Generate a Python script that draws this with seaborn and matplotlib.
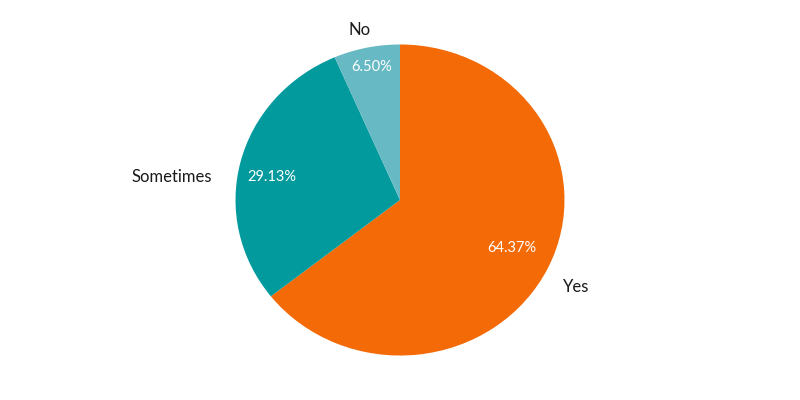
import matplotlib
matplotlib.use("Agg")
import matplotlib.pyplot as plt
import seaborn as sns

categories = ["Yes", "Sometimes", "No"]
values = [64.37, 29.13, 6.50]
colors = ["#F36A06", "#039A9E", "#67B9C4"]

# label placement (layout only), in pie-radius units
label_pos = [(0.991, -0.559, "left"), (-1.143, 0.148, "right"), (-0.243, 1.093, "center")]
pct_pos = [(0.681, -0.309), (-0.778, 0.148), (-0.170, 0.855)]

sns.set_theme(style="white")
plt.rcParams["font.family"] = ["Lato", "DejaVu Sans"]

fig = plt.figure(figsize=(8, 4), dpi=100)
ax = fig.add_axes([0, 0, 1, 1])
wedges, texts, autotexts = ax.pie(
    values, labels=categories, colors=colors, startangle=90, counterclock=False,
    radius=1.0, autopct=lambda p: f"{p:.2f}%", pctdistance=0.82, labeldistance=1.16,
    textprops=dict(fontsize=12, color="#1a1a1a"),
    wedgeprops=dict(linewidth=0),
)
for t, (x, y, ha) in zip(texts, label_pos):
    t.set_position((x, y))
    t.set_ha(ha)
    t.set_va("center")
for t, (x, y) in zip(autotexts, pct_pos):
    t.set_position((x, y))
    t.set_color("white")
    t.set_fontsize(10.5)
    t.set_ha("center")
    t.set_va("center")
ax.set_aspect("auto")
ax.set_xlim(-2.432, 2.432)
ax.set_ylim(-1.286, 1.286)
ax.axis("off")
fig.savefig("out.png", dpi=100, facecolor="white")
